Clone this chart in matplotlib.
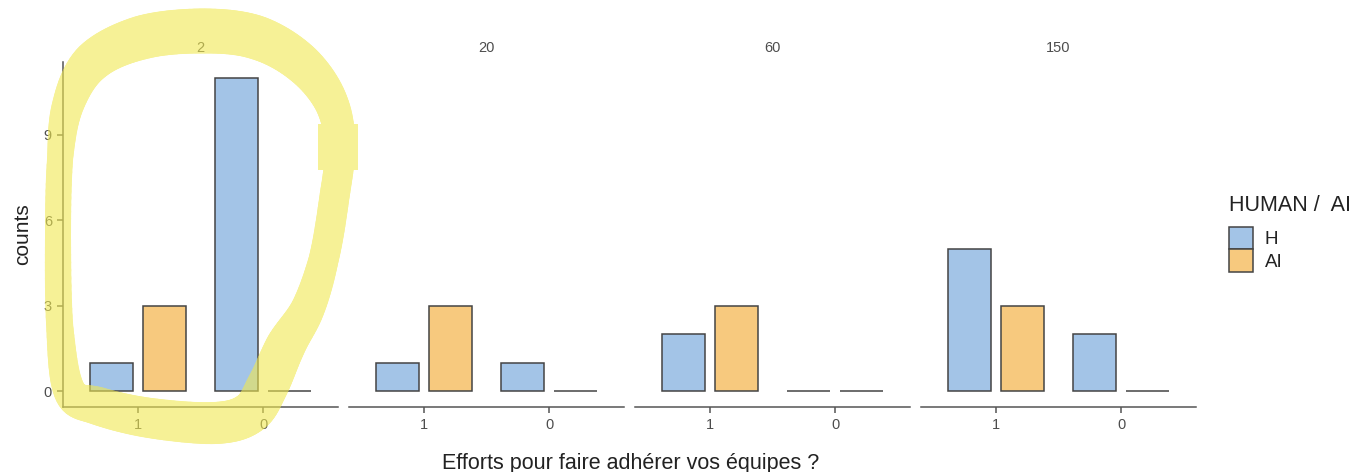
import numpy as np
import matplotlib
matplotlib.use("Agg")
import matplotlib.pyplot as plt
from matplotlib.patches import Patch, Rectangle
from matplotlib.lines import Line2D

plt.rcParams['font.family'] = ['Liberation Sans', 'DejaVu Sans']

facets = ["2", "20", "60", "150"]
categories = ["1", "0"]
groups = ["H", "AI"]
h_counts = {"2": [1, 11], "20": [1, 1], "60": [2, 0], "150": [5, 2]}
ai_counts = {"2": [3, 0], "20": [3, 0], "60": [3, 0], "150": [3, 0]}
yticks = [0, 3, 6, 9]

col_h = "#a3c4e7"
col_ai = "#f7c97e"
edge = "#444444"
axcol = "#555555"
txtcol = "#4d4d4d"

W, H = 1359, 472
fig = plt.figure(figsize=(W / 100, H / 100), dpi=100)

def fx(px):
    return px / W

def fy(py):
    return 1 - py / H

left0, step, pw = 63, 286, 275
top, bottom = 62, 407
ymax = max(max(h_counts[f] + ai_counts[f]) for f in facets)
bw = 0.35
off = 0.2125

for i, f in enumerate(facets):
    ax = fig.add_axes([fx(left0 + i * step), fy(bottom), pw / W, (bottom - top) / H])
    x = np.arange(1, len(categories) + 1)
    ax.bar(x - off, h_counts[f], width=bw, color=col_h, edgecolor=edge, linewidth=1.1)
    ax.bar(x + off, ai_counts[f], width=bw, color=col_ai, edgecolor=edge, linewidth=1.1)
    ax.set_xlim(0.4, 2.6)
    ax.set_ylim(-0.05 * ymax, ymax * 1.05)
    ax.set_xticks(x)
    ax.set_xticklabels(categories)
    for s in ["top", "right"]:
        ax.spines[s].set_visible(False)
    ax.spines["bottom"].set_color(axcol)
    ax.spines["bottom"].set_linewidth(1.1)
    ax.tick_params(axis="x", colors=axcol, labelcolor=txtcol, labelsize=10.5, length=4, width=1.1, pad=4)
    if i == 0:
        ax.spines["left"].set_color(axcol)
        ax.spines["left"].set_linewidth(1.1)
        ax.set_yticks(yticks)
        ax.tick_params(axis="y", colors=axcol, labelcolor=txtcol, labelsize=10.5, length=4, width=1.1, pad=4)
        ax.set_ylabel("counts", fontsize=15, color="#222222", labelpad=8)
    else:
        ax.spines["left"].set_visible(False)
        ax.set_yticks([])
    ax.set_title(f, fontsize=10.5, color=txtcol, pad=7.5)
    ax.patch.set_alpha(0)

fig.text(fx(631), fy(464), "Efforts pour faire adhérer vos équipes ?", ha="center", va="center",
         fontsize=15.5, color="#222222")

handles = [Patch(facecolor=col_h, edgecolor=edge, linewidth=1.1),
           Patch(facecolor=col_ai, edgecolor=edge, linewidth=1.1)]
leg = fig.legend(handles, groups, title="HUMAN /  AI", loc="upper left",
                 bbox_to_anchor=(fx(1229), fy(195)), frameon=False, fontsize=13.5,
                 title_fontsize=15.5, handlelength=1.3, handleheight=1.45,
                 labelspacing=0.0, handletextpad=0.6, borderaxespad=0, borderpad=0)
leg._legend_box.align = "left"
leg._legend_box.sep = 8
for t in leg.get_texts():
    t.set_color("#222222")
leg.get_title().set_color("#222222")

# hand-drawn yellow highlight around the first facet (rendered as a mask, then blended once)
pts = np.array([(200, 31), (255, 37), (300, 62), (330, 100), (340, 145), (334, 200),
                (324, 258), (308, 308), (286, 345), (268, 385), (250, 413), (215, 423),
                (150, 418), (98, 406), (70, 392), (60, 330), (58, 240), (60, 160),
                (68, 105), (92, 62), (140, 38), (200, 31)], dtype=float)
widths = np.array([45, 44, 40, 34, 30, 30, 30, 34, 40, 42, 42, 42,
                   40, 38, 32, 27, 26, 26, 32, 40, 44, 45], dtype=float)

def catmull(p, n=12):
    out = []
    P = np.vstack([p[-2], p, p[1]])
    for k in range(1, len(P) - 2):
        p0, p1, p2, p3 = P[k - 1], P[k], P[k + 1], P[k + 2]
        for t in np.linspace(0, 1, n, endpoint=False):
            t2, t3 = t * t, t * t * t
            out.append(0.5 * ((2 * p1) + (-p0 + p2) * t + (2 * p0 - 5 * p1 + 4 * p2 - p3) * t2
                              + (-p0 + 3 * p1 - 3 * p2 + p3) * t3))
    out.append(out[0])
    return np.array(out)

n = 12
curve = catmull(pts, n)
wcurve = np.interp(np.arange(len(curve)) / n, np.arange(len(widths)), widths)

mfig = plt.figure(figsize=(W / 100, H / 100), dpi=100)
for k in range(len(curve) - 1):
    c = curve[k:k + 2]
    mfig.add_artist(Line2D([fx(v) for v in c[:, 0]], [fy(v) for v in c[:, 1]],
                           transform=mfig.transFigure, color="black",
                           linewidth=wcurve[k] * 0.72, solid_capstyle="round"))
mfig.add_artist(Rectangle((fx(318), fy(170)), 40 / W, 46 / H, transform=mfig.transFigure,
                          facecolor="black", edgecolor="none"))
mfig.canvas.draw()
buf = np.asarray(mfig.canvas.buffer_rgba()).astype(float)
plt.close(mfig)
mask = 1 - buf[..., 0] / 255.0
rgba = np.zeros((buf.shape[0], buf.shape[1], 4))
rgba[..., 0] = 240 / 255
rgba[..., 1] = 232 / 255
rgba[..., 2] = 80 / 255
rgba[..., 3] = mask * 0.6
fig.figimage(rgba, xo=0, yo=0, origin="upper", zorder=10)

fig.savefig("out.png", dpi=100)
